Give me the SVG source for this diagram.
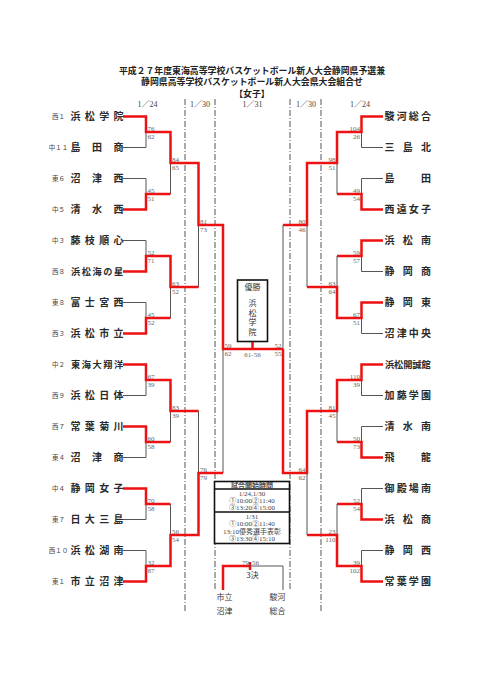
<svg xmlns="http://www.w3.org/2000/svg" width="481" height="680" viewBox="0 0 481 680">
<style>
.bg{fill:#fff}
.ttl{font-family:"Liberation Serif","Noto Sans CJK JP",serif;font-size:8.9px;font-weight:700;fill:#222;text-anchor:middle}
.hdr{font-family:"Liberation Serif","Noto Sans CJK JP",serif;font-size:8px;fill:#444;text-anchor:middle}
.nm{font-family:"Noto Sans CJK JP",sans-serif;font-size:10px;font-weight:700;fill:#2a2a2a;text-anchor:middle}
.nm5{font-size:9.2px}
.sd{font-family:"Liberation Serif","Noto Sans CJK JP",serif;font-size:6.5px;fill:#444;text-anchor:middle}
.sc{font-family:"Liberation Serif",serif;font-size:7px;fill:#666}
.scr{font-family:"Liberation Serif",serif;font-size:7px;fill:#666;text-anchor:end}
.blk{fill:none;stroke:#555;stroke-width:1}
.red{fill:none;stroke:#ee1111;stroke-width:2.5;stroke-linejoin:miter}
.dash{fill:none;stroke:#555;stroke-width:1;stroke-dasharray:6 2 1 2}
.box{fill:#fff;stroke:#111;stroke-width:1.6}
.bx{font-family:"Noto Sans CJK JP",sans-serif;font-size:8px;fill:#333;text-anchor:middle}
.sch{font-family:"Liberation Serif","Noto Sans CJK JP",serif;font-size:7px;fill:#444;text-anchor:middle}
</style>
<rect class="bg" x="0" y="0" width="481" height="680"/>

<g id="title">
<text class="ttl" x="252" y="73.5">平成２７年度東海高等学校バスケットボール新人大会静岡県予選兼</text>
<text class="ttl" x="252" y="84.5">静岡県高等学校バスケットボール新人大会県大会組合せ</text>
<text class="ttl" x="252" y="96.5" font-size="9.5">【女子】</text>
</g>

<g id="round-headers">
<text class="hdr" x="147.5" y="107">1／24</text>
<text class="hdr" x="200" y="107">1／30</text>
<text class="hdr" x="252.5" y="107">1／31</text>
<text class="hdr" x="306" y="107">1／30</text>
<text class="hdr" x="360" y="107">1／24</text>
</g>

<g id="date-dividers">
<path class="dash" d="M185 99V613M215 99V590M290 99V590M321 99V613"/>
</g>

<g id="connectors">
<path class="blk" d="M123 116.5H146M123 147.5H146M123 178.5H146M123 209.5H146M123 240.5H146M123 271.5H146M123 302.5H146M123 333.5H146M123 364.5H146M123 395.5H146M123 426.5H146M123 457.5H146M123 488.5H146M123 519.5H146M123 550.5H146M123 581.5H146
M146 116.5V147.5M146 178.5V209.5M146 240.5V271.5M146 302.5V333.5M146 364.5V395.5M146 426.5V457.5M146 488.5V519.5M146 550.5V581.5
M170.5 132V194M170.5 256V318M170.5 380V442M170.5 504V566
M170.5 163H198.5M170.5 287H198.5M170.5 411H198.5M170.5 535H198.5
M198.5 163V287M198.5 411V535M198.5 225H223M198.5 473H223M223 225V473"/>
<path class="blk" d="M383 116.5H361.5M383 147.5H361.5M383 178.5H361.5M383 209.5H361.5M383 240.5H361.5M383 271.5H361.5M383 302.5H361.5M383 333.5H361.5M383 364.5H361.5M383 395.5H361.5M383 426.5H361.5M383 457.5H361.5M383 488.5H361.5M383 519.5H361.5M383 550.5H361.5M383 581.5H361.5
M361.5 116.5V147.5M361.5 178.5V209.5M361.5 240.5V271.5M361.5 302.5V333.5M361.5 364.5V395.5M361.5 426.5V457.5M361.5 488.5V519.5M361.5 550.5V581.5
M337 132V194M337 256V318M337 380V442M337 504V566
M337 163H307M337 287H307M337 411H307M337 535H307
M307 163V287M307 411V535M307 225H283M307 473H283M283 225V473"/>
<path class="red" d="M123 116.5H146V132H170.5V163H198.5V225H223V349H283
M123 209.5H146V194H170.5
M123 271.5H146V256H170.5V287H198.5
M123 333.5H146V318H170.5
M123 364.5H146V380H170.5V411H198.5
M123 426.5H146V442H170.5
M123 488.5H146V504H170.5
M123 581.5H146V566H170.5V535H198.5V473H223
M252.5 341.5V349"/>
<path class="red" d="M383 116.5H361.5V132H337V163H307V225H283
M383 209.5H361.5V194H337
M383 240.5H361.5V256H337
M383 302.5H361.5V318H337V287H307
M383 364.5H361.5V380H337V411H307V473H283V349
M383 457.5H361.5V442H337
M383 519.5H361.5V504H337
M383 581.5H361.5V566H337V535H307"/>
<path class="red" d="M223 590V566H250M250 562V570"/>
<path class="blk" d="M250 566H283V590"/>
</g>

<g id="team-L0"><text class="sd" x="58.5" y="119">西１</text><text class="nm" x="75.5 89.83 104.17 118.5" y="120">浜松学院</text></g>
<g id="team-L1"><text class="sd" x="58.5" y="150">中１１</text><text class="nm" x="75.5 97 118.5" y="151">島田商</text></g>
<g id="team-L2"><text class="sd" x="58.5" y="181">東６</text><text class="nm" x="75.5 97 118.5" y="182">沼津西</text></g>
<g id="team-L3"><text class="sd" x="58.5" y="212">中５</text><text class="nm" x="75.5 97 118.5" y="213">清水西</text></g>
<g id="team-L4"><text class="sd" x="58.5" y="243">中３</text><text class="nm" x="75.5 89.83 104.17 118.5" y="244">藤枝順心</text></g>
<g id="team-L5"><text class="sd" x="58.5" y="274">西８</text><text class="nm nm5" x="75.5 86.25 97 107.75 118.5" y="275">浜松海の星</text></g>
<g id="team-L6"><text class="sd" x="58.5" y="305">東８</text><text class="nm" x="75.5 89.83 104.17 118.5" y="306">富士宮西</text></g>
<g id="team-L7"><text class="sd" x="58.5" y="336">西３</text><text class="nm" x="75.5 89.83 104.17 118.5" y="337">浜松市立</text></g>
<g id="team-L8"><text class="sd" x="58.5" y="367">中２</text><text class="nm nm5" x="75.5 86.25 97 107.75 118.5" y="368">東海大翔洋</text></g>
<g id="team-L9"><text class="sd" x="58.5" y="398">西９</text><text class="nm" x="75.5 89.83 104.17 118.5" y="399">浜松日体</text></g>
<g id="team-L10"><text class="sd" x="58.5" y="429">西７</text><text class="nm" x="75.5 89.83 104.17 118.5" y="430">常葉菊川</text></g>
<g id="team-L11"><text class="sd" x="58.5" y="460">東４</text><text class="nm" x="75.5 97 118.5" y="461">沼津商</text></g>
<g id="team-L12"><text class="sd" x="58.5" y="491">中４</text><text class="nm" x="75.5 89.83 104.17 118.5" y="492">静岡女子</text></g>
<g id="team-L13"><text class="sd" x="58.5" y="522">東７</text><text class="nm" x="75.5 89.83 104.17 118.5" y="523">日大三島</text></g>
<g id="team-L14"><text class="sd" x="58.5" y="553">西１０</text><text class="nm" x="75.5 89.83 104.17 118.5" y="554">浜松湖南</text></g>
<g id="team-L15"><text class="sd" x="58.5" y="584">東１</text><text class="nm" x="75.5 89.83 104.17 118.5" y="585">市立沼津</text></g>

<g id="team-R0"><text class="nm" x="389.5 401.67 413.83 426" y="120">駿河総合</text></g>
<g id="team-R1"><text class="nm" x="389.5 407.75 426" y="151">三島北</text></g>
<g id="team-R2"><text class="nm" x="389.5 426" y="182">島田</text></g>
<g id="team-R3"><text class="nm" x="389.5 401.67 413.83 426" y="213">西遠女子</text></g>
<g id="team-R4"><text class="nm" x="389.5 407.75 426" y="244">浜松南</text></g>
<g id="team-R5"><text class="nm" x="389.5 407.75 426" y="275">静岡商</text></g>
<g id="team-R6"><text class="nm" x="389.5 407.75 426" y="306">静岡東</text></g>
<g id="team-R7"><text class="nm" x="389.5 401.67 413.83 426" y="337">沼津中央</text></g>
<g id="team-R8"><text class="nm nm5" x="389.5 398.63 407.75 416.88 426" y="368">浜松開誠館</text></g>
<g id="team-R9"><text class="nm" x="389.5 401.67 413.83 426" y="399">加藤学園</text></g>
<g id="team-R10"><text class="nm" x="389.5 407.75 426" y="430">清水南</text></g>
<g id="team-R11"><text class="nm" x="389.5 426" y="461">飛龍</text></g>
<g id="team-R12"><text class="nm" x="389.5 401.67 413.83 426" y="492">御殿場南</text></g>
<g id="team-R13"><text class="nm" x="389.5 407.75 426" y="523">浜松商</text></g>
<g id="team-R14"><text class="nm" x="389.5 407.75 426" y="554">静岡西</text></g>
<g id="team-R15"><text class="nm" x="389.5 401.67 413.83 426" y="585">常葉学園</text></g>

<g id="scores-left">
<text class="sc" x="147.5" y="131">76</text><text class="sc" x="147.5" y="139">62</text>
<text class="sc" x="147.5" y="193">45</text><text class="sc" x="147.5" y="201">51</text>
<text class="sc" x="147.5" y="255">52</text><text class="sc" x="147.5" y="263">71</text>
<text class="sc" x="147.5" y="317">45</text><text class="sc" x="147.5" y="325">52</text>
<text class="sc" x="147.5" y="379">67</text><text class="sc" x="147.5" y="387">39</text>
<text class="sc" x="147.5" y="441">60</text><text class="sc" x="147.5" y="449">58</text>
<text class="sc" x="147.5" y="503">70</text><text class="sc" x="147.5" y="511">58</text>
<text class="sc" x="147.5" y="565">32</text><text class="sc" x="147.5" y="573">87</text>
<text class="sc" x="172" y="162">84</text><text class="sc" x="172" y="170">65</text>
<text class="sc" x="172" y="286">63</text><text class="sc" x="172" y="294">52</text>
<text class="sc" x="172" y="410">83</text><text class="sc" x="172" y="418">39</text>
<text class="sc" x="172" y="534">56</text><text class="sc" x="172" y="542">54</text>
<text class="sc" x="200" y="224">81</text><text class="sc" x="200" y="232">73</text>
<text class="sc" x="200" y="472">76</text><text class="sc" x="200" y="480">79</text>
<text class="sc" x="224.5" y="348">59</text><text class="sc" x="224.5" y="356">62</text>
</g>

<g id="scores-right">
<text class="scr" x="360" y="131">104</text><text class="scr" x="360" y="139">26</text>
<text class="scr" x="360" y="193">49</text><text class="scr" x="360" y="201">54</text>
<text class="scr" x="360" y="255">59</text><text class="scr" x="360" y="263">57</text>
<text class="scr" x="360" y="317">67</text><text class="scr" x="360" y="325">51</text>
<text class="scr" x="360" y="379">110</text><text class="scr" x="360" y="387">39</text>
<text class="scr" x="360" y="441">50</text><text class="scr" x="360" y="449">73</text>
<text class="scr" x="360" y="503">52</text><text class="scr" x="360" y="511">54</text>
<text class="scr" x="360" y="565">39</text><text class="scr" x="360" y="573">102</text>
<text class="scr" x="335.5" y="162">98</text><text class="scr" x="335.5" y="170">51</text>
<text class="scr" x="335.5" y="286">63</text><text class="scr" x="335.5" y="294">64</text>
<text class="scr" x="335.5" y="410">81</text><text class="scr" x="335.5" y="418">45</text>
<text class="scr" x="335.5" y="534">23</text><text class="scr" x="335.5" y="542">110</text>
<text class="scr" x="305.5" y="224">80</text><text class="scr" x="305.5" y="232">46</text>
<text class="scr" x="305.5" y="472">64</text><text class="scr" x="305.5" y="480">62</text>
<text class="scr" x="281.5" y="348">52</text><text class="scr" x="281.5" y="356">55</text>
<text class="sc" x="252.5" y="357" text-anchor="middle">61-56</text>
</g>

<g id="champion">
<rect class="box" x="237.5" y="280" width="30" height="61.5"/>
<text class="bx" x="252.5" y="290">優勝</text>
<text class="bx" x="252.5" y="306">浜</text>
<text class="bx" x="252.5" y="315.5">松</text>
<text class="bx" x="252.5" y="325">学</text>
<text class="bx" x="252.5" y="334.5">院</text>
</g>

<g id="schedule">
<rect class="box" x="214.5" y="481.5" width="75" height="62"/>
<path fill="none" stroke="#111" stroke-width="1.6" d="M214.5 489H289.5M214.5 512H289.5"/>
<text class="sch" x="252" y="487.8" font-weight="700" fill="#222">試合開始時間</text>
<text class="sch" x="252" y="496">1/24,1/30</text>
<text class="sch" x="252" y="503.3">①10:00②11:40</text>
<text class="sch" x="252" y="510.4">③13:20④15:00</text>
<text class="sch" x="252" y="519">1/31</text>
<text class="sch" x="252" y="526.4">①10:00②11:40</text>
<text class="sch" x="252" y="533.8">13:10優秀選手表彰</text>
<text class="sch" x="252" y="541.2">③13:30④15:10</text>
</g>

<g id="third-place">
<text class="sc" x="249" y="565" text-anchor="end">79</text>
<text class="sc" x="252" y="565">56</text>
<text class="bx" x="252.5" y="578">3決</text>
<text class="bx" x="224.5" y="600">市立</text>
<text class="bx" x="224.5" y="613.5">沼津</text>
<text class="bx" x="277.5" y="600">駿河</text>
<text class="bx" x="277.5" y="613.5">総合</text>
</g>
</svg>
